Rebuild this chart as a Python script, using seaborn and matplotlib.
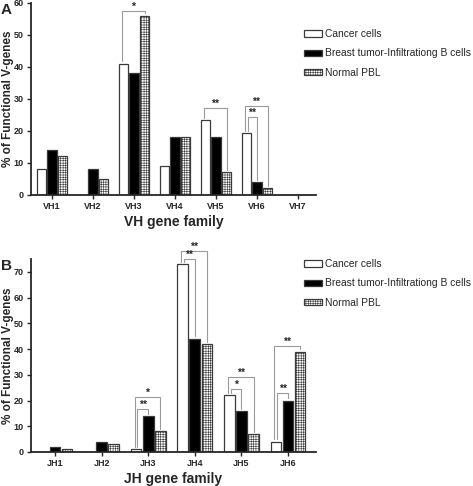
import matplotlib
matplotlib.use("Agg")
import matplotlib.pyplot as plt
import pandas as pd
import seaborn as sns
from matplotlib.patches import Patch

# ---- data ----
groups = ["Cancer cells", "Breast tumor-Infiltrationg B cells", "Normal PBL"]

vh_families = ["VH1", "VH2", "VH3", "VH4", "VH5", "VH6", "VH7"]
vh_cancer = [8, 0, 41, 9, 23.3, 19.3, 0]
vh_til = [14, 8, 38, 18, 18, 4, 0]
vh_pbl = [12, 5, 56, 18, 7, 2, 0]

jh_families = ["JH1", "JH2", "JH3", "JH4", "JH5", "JH6"]
jh_cancer = [0, 0, 1.2, 73, 22, 4]
jh_til = [2, 4, 14, 44, 16, 20]
jh_pbl = [1, 3, 8, 42, 7, 39]

# significance: (family index, group a, group b, bracket level, label)
vh_sig = [(2, 0, 2, 57.6, "*"), (4, 0, 2, 27.0, "**"),
          (5, 0, 1, 24.3, "**"), (5, 0, 2, 27.8, "**")]
jh_sig = [(2, 0, 1, 16.7, "**"), (2, 0, 2, 21.5, "*"),
          (3, 0, 1, 75.0, "**"), (3, 0, 2, 78.0, "**"),
          (4, 0, 1, 24.5, "*"), (4, 0, 2, 29.3, "**"),
          (5, 0, 1, 23.0, "**"), (5, 0, 2, 41.3, "**")]


def long_table(fams, a, b, c):
    rows = []
    for vals, g in zip([a, b, c], groups):
        for f, v in zip(fams, vals):
            rows.append({"family": f, "group": g, "value": v})
    return pd.DataFrame(rows)


sns.set_style("ticks")
plt.rcParams["font.family"] = ["Liberation Sans", "DejaVu Sans"]
plt.rcParams["hatch.linewidth"] = 0.4

EDGE = "#3a3a3a"
BRK = "#9a9a9a"


def panel(ax, fams, a, b, c, sig, ymax, yticks, xlim, xlabel, letter):
    df = long_table(fams, a, b, c)
    sns.barplot(data=df, x="family", y="value", hue="group", order=fams,
                hue_order=groups, palette=["white", "black", "white"],
                width=0.78, gap=0.12, edgecolor=EDGE, linewidth=0.9,
                ax=ax, legend=False, errorbar=None)
    for p in ax.containers[2]:
        p.set_hatch("+++++++")
    ax.set_ylim(0, ymax)
    ax.set_xlim(*xlim)
    ax.set_yticks(yticks)
    sns.despine(ax=ax)
    for s in ["left", "bottom"]:
        ax.spines[s].set_linewidth(1.3)
    ax.tick_params(axis="both", length=3, width=1, pad=2)
    for t in ax.get_xticklabels() + ax.get_yticklabels():
        t.set_fontweight("bold")
        t.set_fontsize(6.5)
    ax.set_ylabel("% of Functional V-genes", fontsize=8.5, fontweight="bold")
    ax.yaxis.set_label_coords(-0.058, 0.5)
    ax.set_xlabel(xlabel, fontsize=10, fontweight="bold", labelpad=3)

    gap = 0.012 * ymax
    for fi, ga, gb, lev, lab in sig:
        pa = ax.containers[ga][fi]
        pb = ax.containers[gb][fi]
        off = 0.03 if gb == 1 else -0.03
        xa = pa.get_x() + pa.get_width() / 2 + off
        xb = pb.get_x() + pb.get_width() / 2
        ya = pa.get_height() + gap
        yb = pb.get_height() + gap
        ax.plot([xa, xa, xb, xb], [ya, lev, lev, yb], color=BRK, lw=0.8,
                clip_on=False, solid_joinstyle="miter")
        ax.text((xa + xb) / 2, lev - 0.004 * ymax, lab, ha="center",
                va="bottom", fontsize=7.5, fontweight="bold", clip_on=False)

    handles = [Patch(facecolor="white", edgecolor=EDGE, lw=0.9),
               Patch(facecolor="black", edgecolor=EDGE, lw=0.9),
               Patch(facecolor="white", edgecolor=EDGE, lw=0.9,
                     hatch="+++++++")]
    ax.legend(handles, groups, loc="upper left", frameon=False,
              bbox_to_anchor=(1.0, 0.0), fontsize=7.4, handlelength=1.75,
              handleheight=0.55, handletextpad=0.25, labelspacing=0.9,
              borderaxespad=0)
    ax.text(-0.105, 1.0, letter, transform=ax.transAxes, fontsize=11,
            fontweight="bold", va="top", ha="left")


fig = plt.figure(figsize=(4.73, 4.86), dpi=100)
ax_a = fig.add_axes([0.065, 0.599, 0.603, 0.395])
ax_b = fig.add_axes([0.065, 0.070, 0.603, 0.397])

panel(ax_a, vh_families, vh_cancer, vh_til, vh_pbl, vh_sig, 60,
      range(0, 61, 10), (-0.52, 6.44), "VH gene family", "A")
panel(ax_b, jh_families, jh_cancer, jh_til, jh_pbl, jh_sig, 75,
      range(0, 71, 10), (-0.52, 5.6), "JH gene family", "B")

ax_a.get_legend().set_bbox_to_anchor((300 / 473, 1 - 25 / 486),
                                     transform=fig.transFigure)
ax_b.get_legend().set_bbox_to_anchor((300 / 473, 1 - 255 / 486),
                                     transform=fig.transFigure)

fig.savefig("out.png", dpi=100)
